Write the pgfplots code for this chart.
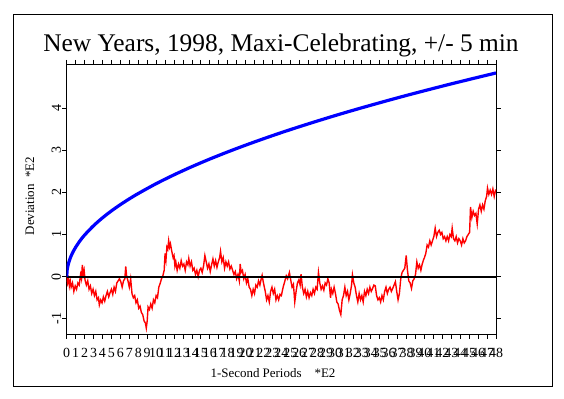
\documentclass[border=0pt]{standalone}
\usepackage{pgfplots}
\pgfplotsset{compat=1.18}
\usepackage{fontspec}
\setmainfont{Liberation Serif}
\begin{document}
\begin{tikzpicture}
\useasboundingbox (-66.7bp,-65bp) rectangle (497.3bp,334bp);
\draw[line width=0.9bp] (-53.7bp,-52bp) rectangle (485.3bp,320bp);
\begin{axis}[
  at={(0,0)}, anchor=south west,
  scale only axis, width=429.3bp, height=269.5bp,
  xmin=0, xmax=48, ymin=-1.36, ymax=5.03,
  axis line style={line width=0.8bp},
  tick align=outside, major tick length=4.5bp,
  tick style={black, line width=0.8bp},
  xtick={0,1,...,48}, ytick={-1,0,1,2,3,4},
  /pgf/number format/assume math mode=true,
  ticklabel style={font=\fontsize{14}{16}\selectfont},
  xticklabel style={inner sep=1pt, yshift=-9bp},
  yticklabel style={rotate=90, anchor=south, inner sep=1pt},
  clip=true,
]
\addplot[red, line width=1.4bp] coordinates {
(0.00,0.00) (0.10,-0.15) (0.20,-0.05) (0.30,-0.22) (0.40,-0.10) (0.50,-0.25) (0.65,-0.15) (0.80,-0.35) (0.95,-0.22) (1.10,-0.30)
(1.25,-0.15) (1.40,-0.20) (1.55,0.05) (1.65,-0.05) (1.75,0.28) (1.85,0.05) (1.95,0.15) (2.05,-0.08) (2.20,-0.20) (2.35,-0.10)
(2.50,-0.30) (2.65,-0.22) (2.80,-0.40) (2.95,-0.30) (3.10,-0.45) (3.25,-0.35) (3.40,-0.55) (3.55,-0.50) (3.65,-0.67) (3.80,-0.55)
(3.95,-0.62) (4.10,-0.48) (4.25,-0.58) (4.40,-0.45) (4.55,-0.35) (4.70,-0.48) (4.85,-0.38) (5.00,-0.30) (5.15,-0.42) (5.30,-0.25)
(5.45,-0.35) (5.60,-0.15) (5.75,-0.10) (5.90,-0.05) (6.05,-0.12) (6.20,-0.25) (6.35,-0.10) (6.50,-0.05) (6.60,0.24) (6.70,0.02)
(6.85,-0.10) (7.00,-0.25) (7.15,-0.05) (7.30,-0.40) (7.45,-0.50) (7.60,-0.45) (7.75,-0.62) (7.90,-0.55) (8.05,-0.75) (8.20,-0.70)
(8.35,-0.85) (8.50,-0.90) (8.65,-1.05) (8.80,-1.10) (8.90,-1.22) (9.00,-1.05) (9.10,-0.72) (9.25,-0.78) (9.40,-0.65) (9.55,-0.75)
(9.70,-0.55) (9.85,-0.62) (10.00,-0.45) (10.15,-0.50) (10.30,-0.25) (10.45,-0.16) (10.60,-0.05) (10.75,0.02) (10.90,0.15) (11.00,0.55)
(11.10,0.40) (11.20,0.70) (11.30,0.65) (11.40,0.85) (11.50,0.70) (11.60,0.78) (11.75,0.60) (11.90,0.45) (12.00,0.50) (12.10,0.25)
(12.20,0.35) (12.35,0.15) (12.50,0.30) (12.65,0.20) (12.80,0.38) (12.95,0.25) (13.10,0.30) (13.25,0.15) (13.40,0.35) (13.55,0.28)
(13.65,0.43) (13.80,0.25) (13.95,0.35) (14.10,0.15) (14.25,0.20) (14.40,0.05) (14.55,0.15) (14.70,0.00) (14.85,0.15) (15.00,0.20)
(15.15,0.10) (15.30,0.25) (15.45,0.50) (15.60,0.35) (15.75,0.20) (15.90,0.30) (16.05,0.12) (16.20,0.28) (16.35,0.42) (16.50,0.25)
(16.65,0.38) (16.80,0.22) (16.95,0.35) (17.10,0.45) (17.20,0.60) (17.35,0.35) (17.50,0.45) (17.65,0.20) (17.80,0.35) (17.95,0.25)
(18.10,0.35) (18.25,0.18) (18.40,0.25) (18.55,0.15) (18.70,0.05) (18.85,0.12) (19.00,-0.05) (19.15,0.05) (19.30,-0.10) (19.40,0.30)
(19.50,0.10) (19.65,0.15) (19.80,-0.05) (19.95,0.05) (20.10,-0.15) (20.25,-0.05) (20.40,-0.25) (20.55,-0.30) (20.70,-0.45) (20.85,-0.30)
(21.00,-0.40) (21.15,-0.20) (21.30,-0.25) (21.45,-0.10) (21.60,-0.20) (21.75,-0.05) (21.85,0.03) (22.00,-0.15) (22.20,-0.35) (22.35,-0.55)
(22.50,-0.45) (22.65,-0.60) (22.80,-0.35) (22.95,-0.25) (23.10,-0.40) (23.25,-0.30) (23.40,-0.55) (23.55,-0.45) (23.70,-0.55) (23.85,-0.42)
(24.00,-0.45) (24.20,-0.25) (24.40,-0.10) (24.55,0.02) (24.70,-0.05) (24.90,0.10) (25.05,-0.08) (25.20,-0.25) (25.35,-0.18) (25.50,-0.60)
(25.65,-0.35) (25.80,-0.15) (25.95,-0.08) (26.10,-0.20) (26.20,0.06) (26.35,-0.25) (26.50,-0.40) (26.65,-0.30) (26.80,-0.48) (26.95,-0.35)
(27.10,-0.50) (27.25,-0.38) (27.40,-0.45) (27.55,-0.30) (27.70,-0.40) (27.85,-0.25) (28.00,-0.30) (28.15,0.10) (28.30,-0.15) (28.45,-0.30)
(28.60,-0.22) (28.75,-0.32) (28.90,-0.15) (29.05,-0.20) (29.20,-0.05) (29.35,-0.15) (29.50,-0.50) (29.60,-0.30) (29.75,-0.40) (29.90,-0.25)
(30.05,-0.40) (30.20,-0.60) (30.35,-0.65) (30.50,-0.80) (30.65,-0.90) (30.80,-0.55) (30.95,-0.45) (31.10,-0.25) (31.25,-0.45) (31.40,-0.35)
(31.55,-0.55) (31.70,-0.40) (31.85,-0.20) (31.95,0.04) (32.10,-0.15) (32.25,-0.25) (32.40,-0.45) (32.55,-0.60) (32.70,-0.40) (32.85,-0.55)
(33.00,-0.45) (33.15,-0.60) (33.30,-0.35) (33.45,-0.45) (33.60,-0.30) (33.75,-0.40) (33.90,-0.25) (34.05,-0.35) (34.20,-0.28) (34.35,-0.20)
(34.50,-0.22) (34.65,-0.45) (34.80,-0.55) (34.95,-0.50) (35.10,-0.60) (35.25,-0.45) (35.40,-0.55) (35.55,-0.35) (35.70,-0.25) (35.85,-0.40)
(36.00,-0.30) (36.15,-0.25) (36.30,-0.35) (36.45,-0.28) (36.60,-0.20) (36.75,-0.12) (36.90,-0.35) (37.05,-0.55) (37.20,-0.40) (37.35,-0.05)
(37.50,0.10) (37.65,0.15) (37.80,0.20) (37.96,0.50) (38.10,0.15) (38.25,-0.10) (38.40,-0.15) (38.55,-0.28) (38.70,-0.10) (38.85,-0.05)
(39.00,0.05) (39.15,0.35) (39.30,0.20) (39.45,0.28) (39.60,0.15) (39.75,0.30) (39.90,0.40) (40.00,0.45) (40.15,0.55) (40.30,0.75)
(40.45,0.70) (40.60,0.85) (40.75,0.75) (40.90,0.85) (41.05,0.95) (41.20,1.15) (41.35,0.95) (41.50,1.05) (41.65,1.10) (41.80,1.00)
(41.95,1.05) (42.10,0.90) (42.25,0.95) (42.40,0.85) (42.55,0.95) (42.70,0.85) (42.85,1.00) (43.00,0.95) (43.10,1.15) (43.25,0.90)
(43.40,0.85) (43.55,0.95) (43.70,0.80) (43.85,0.90) (44.00,0.85) (44.15,0.75) (44.30,0.90) (44.45,0.80) (44.60,0.85) (44.75,0.95)
(44.90,1.00) (45.05,1.05) (45.15,1.65) (45.30,1.40) (45.45,1.55) (45.60,1.45) (45.75,1.50) (45.90,1.25) (46.05,1.60) (46.20,1.70)
(46.35,1.55) (46.50,1.70) (46.65,1.60) (46.80,1.80) (46.95,1.90) (47.05,2.10) (47.20,1.95) (47.35,2.05) (47.50,1.95) (47.65,2.08)
(47.80,1.90) (47.95,2.05) (48.00,2.05)
};
\addplot[black, line width=2.2bp] coordinates {(0,0) (48,0)};
\addplot[blue, line width=3.2bp, smooth] coordinates {
(0,0) (0.05,0.156) (0.1,0.220) (0.2,0.312) (0.3,0.382) (0.5,0.493) (0.75,0.604) (1,0.697) (1.5,0.854) (2,0.986)
(3,1.207) (4,1.394) (5,1.559) (6,1.707) (7,1.844) (8,1.971) (10,2.204) (12,2.414) (14,2.608) (16,2.788)
(18,2.957) (20,3.117) (22,3.269) (24,3.415) (26,3.554) (28,3.688) (30,3.818) (32,3.943) (34,4.064) (36,4.182)
(38,4.297) (40,4.408) (42,4.517) (44,4.623) (46,4.727) (48,4.829)
};
\end{axis}
\node at (214.3bp,289bp) {\fontsize{25.5}{30}\selectfont New Years, 1998, Maxi-Celebrating, +/- 5 min};
\node at (206.3bp,-39bp) {\fontsize{13}{15}\selectfont 1-Second Periods\quad *E2};
\node[rotate=90] at (-36.7bp,138bp) {\fontsize{13}{15}\selectfont Deviation\ \ *E2};
\end{tikzpicture}
\end{document}
